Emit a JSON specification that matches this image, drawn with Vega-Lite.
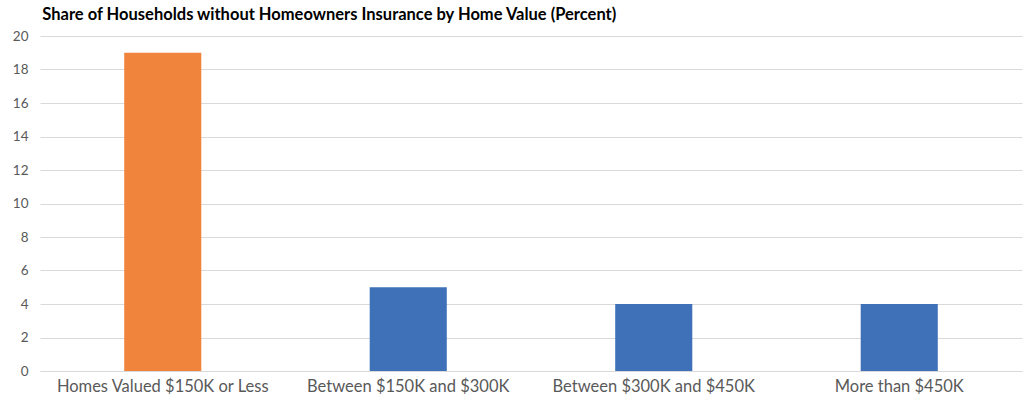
{
  "$schema": "https://vega.github.io/schema/vega-lite/v6.json",
  "width": 982,
  "height": 335,
  "autosize": {"type": "none"},
  "padding": {"left": 40, "top": 36, "right": 10, "bottom": 33},
  "background": "white",
  "title": {
    "text": "Share of Households without Homeowners Insurance by Home Value (Percent)",
    "anchor": "start",
    "font": "Lato",
    "fontSize": 16.5,
    "fontWeight": "bold",
    "color": "#000000",
    "offset": 6,
    "dx": 30
  },
  "data": {
    "values": [
      {"category": "Homes Valued $150K or Less", "value": 19, "group": "low"},
      {"category": "Between $150K and $300K", "value": 5, "group": "other"},
      {"category": "Between $300K and $450K", "value": 4, "group": "other"},
      {"category": "More than $450K", "value": 4, "group": "other"}
    ]
  },
  "mark": {"type": "bar"},
  "encoding": {
    "x": {
      "field": "category",
      "type": "nominal",
      "sort": null,
      "scale": {"paddingInner": 0.686, "paddingOuter": 0.343},
      "axis": {
        "title": null,
        "labelAngle": 0,
        "labelLimit": 0,
        "ticks": false,
        "domain": true,
        "domainColor": "#d9d9d9",
        "labelFont": "Lato",
        "labelFontSize": 16.5,
        "labelColor": "#595959",
        "labelPadding": 7
      }
    },
    "y": {
      "field": "value",
      "type": "quantitative",
      "scale": {"domain": [0, 20]},
      "axis": {
        "title": null,
        "values": [0, 2, 4, 6, 8, 10, 12, 14, 16, 18, 20],
        "ticks": false,
        "domain": false,
        "gridColor": "#d9d9d9",
        "labelFont": "Lato",
        "labelFontSize": 13.5,
        "labelColor": "#595959",
        "labelPadding": 12
      }
    },
    "color": {
      "field": "group",
      "type": "nominal",
      "scale": {"domain": ["low", "other"], "range": ["#F0843C", "#3F71B8"]},
      "legend": null
    }
  },
  "config": {"view": {"stroke": null}}
}
